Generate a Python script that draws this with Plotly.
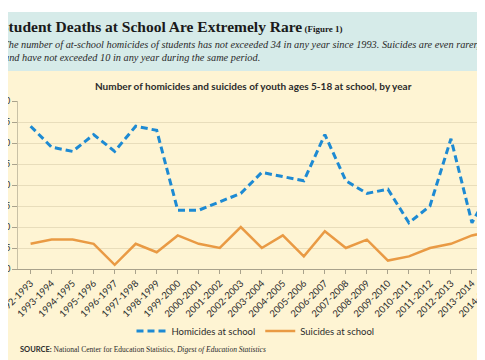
import plotly.graph_objects as go

years = ["1992-1993", "1993-1994", "1994-1995", "1995-1996", "1996-1997", "1997-1998",
         "1998-1999", "1999-2000", "2000-2001", "2001-2002", "2002-2003", "2003-2004",
         "2004-2005", "2005-2006", "2006-2007", "2007-2008", "2008-2009", "2009-2010",
         "2010-2011", "2011-2012", "2012-2013", "2013-2014", "2014-2015"]
homicides = [34, 29, 28, 32, 28, 34, 33, 14, 14, 16, 18, 23, 22, 21, 32, 21, 18, 19, 11, 15, 31, 11, 20]
suicides = [6, 7, 7, 6, 1, 6, 4, 8, 6, 5, 10, 5, 8, 3, 9, 5, 7, 2, 3, 5, 6, 8, 9]
y_ticks = [0, 5, 10, 15, 20, 25, 30, 35, 40]

BLUE = "#1D8AD3"
ORANGE = "#E99A44"
TEAL = "#D6EBE9"
CREAM = "#FEF4D3"
GRID = "#E8DDBB"
TEXT = "#2b2b2b"

W, H = 485, 360
L, R, T, B = 10, 0, 93, 99
pw = W - L - R
ph = H - T - B

def px_x(p):
    return (p - L) / pw

def px_y(p):
    return (H - B - p) / ph

fig = go.Figure()
fig.add_trace(go.Scatter(x=years, y=homicides, mode="lines", name="Homicides at school",
                         line=dict(color=BLUE, width=3, dash="7px,4px")))
fig.add_trace(go.Scatter(x=years, y=suicides, mode="lines", name="Suicides at school",
                         line=dict(color=ORANGE, width=2.5)))

shapes = [
    dict(type="rect", xref="paper", yref="paper", x0=px_x(-5), x1=px_x(W + 5),
         y0=px_y(63), y1=px_y(4), fillcolor=TEAL, line=dict(width=0), layer="below"),
    dict(type="rect", xref="paper", yref="paper", x0=px_x(-5), x1=px_x(W + 5),
         y0=px_y(355), y1=px_y(63), fillcolor=CREAM, line=dict(width=0), layer="below"),
]

annotations = [
    dict(xref="paper", yref="paper", x=px_x(-10), y=px_y(18), xanchor="left", yanchor="middle",
         showarrow=False, align="left",
         text="<b>Student Deaths at School Are Extremely Rare</b><span style='font-size:9px'><b> (Figure 1)</b></span>",
         font=dict(family="Liberation Serif", size=15.5, color="#1a1a1a")),
    dict(xref="paper", yref="paper", x=px_x(-7), y=px_y(36), xanchor="left", yanchor="middle",
         showarrow=False, align="left",
         text="<i>The number of at-school homicides of students has not exceeded 34 in any year since 1993. Suicides are even rarer,</i>",
         font=dict(family="Liberation Serif", size=10.3, color="#2a2a2a")),
    dict(xref="paper", yref="paper", x=px_x(-6), y=px_y(49), xanchor="left", yanchor="middle",
         showarrow=False, align="left",
         text="<i>and have not exceeded 10 in any year during the same period.</i>",
         font=dict(family="Liberation Serif", size=10.3, color="#2a2a2a")),
    dict(xref="paper", yref="paper", x=px_x(245), y=px_y(78), xanchor="center", yanchor="middle",
         showarrow=False,
         text="<b>Number of homicides and suicides of youth ages 5-18 at school, by year</b>",
         font=dict(family="Lato", size=10, color=TEXT)),
    dict(xref="paper", yref="paper", x=px_x(10), y=px_y(341), xanchor="left", yanchor="middle",
         showarrow=False, align="left",
         text="<span style='font-family:Lato'><b>SOURCE:</b></span> National Center for Education Statistics, <i>Digest of Education Statistics</i>",
         font=dict(family="Liberation Serif", size=7.5, color=TEXT)),
]

fig.update_layout(
    width=W, height=H,
    margin=dict(l=L, r=R, t=T, b=B, pad=0),
    paper_bgcolor="white",
    plot_bgcolor="rgba(0,0,0,0)",
    shapes=shapes,
    annotations=annotations,
    showlegend=True,
    legend=dict(orientation="h", x=0.5, xanchor="center", y=px_y(323), yanchor="middle",
                bgcolor="rgba(0,0,0,0)", font=dict(family="Lato", size=9.5, color=TEXT),
                itemwidth=30),
    xaxis=dict(type="category", range=[-0.6, 22.0], tickangle=-45, automargin=False,
               showgrid=False, showline=True, linecolor="#A9A28C", linewidth=1,
               ticks="outside", ticklen=4, tickcolor="#A9A28C",
               tickfont=dict(family="Lato", size=9.5, color=TEXT)),
    yaxis=dict(range=[0, 40], tickvals=y_ticks, automargin=False,
               showgrid=True, gridcolor=GRID, gridwidth=1, zeroline=False,
               showline=True, linecolor="#C9C1A6", linewidth=1,
               ticks="outside", ticklen=5, tickcolor="#A9A28C",
               tickfont=dict(family="Lato", size=8.5, color=TEXT)),
)

fig.write_html("out.html")
